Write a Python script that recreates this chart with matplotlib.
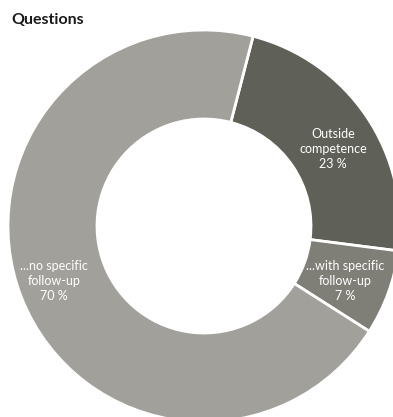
import matplotlib.pyplot as plt

# slices of the donut, clockwise from the top
labels = ["Outside\ncompetence", "...with specific\nfollow-up", "...no specific\nfollow-up"]
shares = [23, 7, 70]
colors = ["#5f6058", "#7f7f78", "#a2a09b"]

fig = plt.figure(figsize=(3.93, 4.17), dpi=100)
ax = fig.add_axes([0, 0, 1, 1])

wedges, _ = ax.pie(shares, colors=colors, startangle=75.5, counterclock=False,
                   radius=196, center=(204, 191),
                   wedgeprops=dict(width=89, edgecolor="white", linewidth=2))
ax.set_xlim(0, 393)
ax.set_ylim(0, 417)
ax.set_aspect("equal")
ax.axis("off")

# label positions (pixel coords inside the ring)
label_pos = [(333, 268), (345, 136), (54, 136)]
for lab, val, (x, y) in zip(labels, shares, label_pos):
    ax.text(x, y, lab + "\n" + str(val) + " %", ha="center", va="center",
            color="white", fontsize=9, linespacing=1.3, family="Lato")

fig.text(11, 417 - 20, "Questions", transform=None, ha="left", va="center",
         fontsize=11.5, fontweight="bold", color="#1a1a1a", family="Lato")

plt.savefig("out.png", dpi=100)
